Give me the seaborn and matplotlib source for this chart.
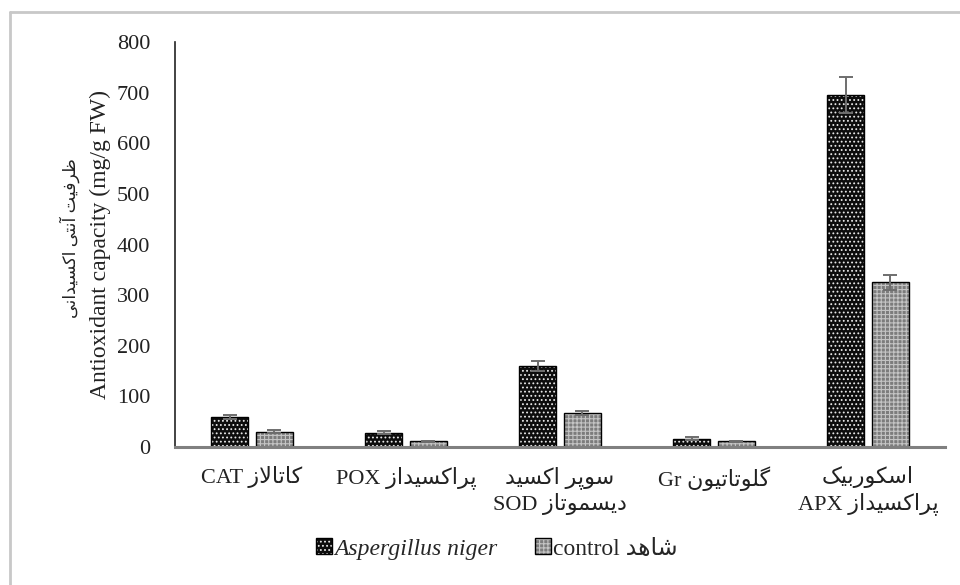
import numpy as np
import pandas as pd
import matplotlib
matplotlib.use("Agg")
import matplotlib.pyplot as plt
from matplotlib import font_manager, ft2font
from matplotlib.colors import to_rgba
from matplotlib.patches import Patch
from matplotlib.lines import Line2D
import seaborn as sns

# ---------------- Persian shaping helper (matplotlib has no bidi/shaping) -------------
_dj = ft2font.FT2Font(font_manager.findfont("DejaVu Sans"))
_cmap = _dj.get_charmap()

_JOIN = {
    "\u0627": ("R", 0xFE8D), "\u0622": ("R", 0xFE81), "\u0628": ("D", 0xFE8F),
    "\u062A": ("D", 0xFE95), "\u062F": ("R", 0xFEA9), "\u0631": ("R", 0xFEAD),
    "\u0632": ("R", 0xFEAF), "\u0633": ("D", 0xFEB1), "\u0634": ("D", 0xFEB5),
    "\u0638": ("D", 0xFEC5), "\u0641": ("D", 0xFED1), "\u0644": ("D", 0xFEDD),
    "\u0645": ("D", 0xFEE1), "\u0646": ("D", 0xFEE5), "\u0647": ("D", 0xFEE9),
    "\u0648": ("R", 0xFEED), "\u06CC": ("D", 0xFBFC), "\u06A9": ("D", 0xFB8E),
    "\u06AF": ("D", 0xFB92), "\u067E": ("D", 0xFB56),
}
_FALLBACK = {"\u06CC": (0xFEEF, 0xFEF0, 0xFEF3, 0xFEF4),
             "\u06A9": (0xFED9, 0xFEDA, 0xFEDB, 0xFEDC),
             "\u06AF": (0xFED9, 0xFEDA, 0xFEDB, 0xFEDC),
             "\u067E": (0xFE8F, 0xFE90, 0xFE91, 0xFE92)}


def _form(c, idx):
    t, base = _JOIN[c]
    cp = base + idx
    if cp not in _cmap and c in _FALLBACK:
        cp = _FALLBACK[c][idx]
    return chr(cp)


def fa(text):
    out = []
    i = 0
    n = len(text)
    prev_joins = False
    while i < n:
        c = text[i]
        if c not in _JOIN:
            out.append(c)
            prev_joins = False
            i += 1
            continue
        nxt = text[i + 1] if i + 1 < n else ""
        if c == "\u0644" and nxt in ("\u0627", "\u0622"):
            if nxt == "\u0627":
                out.append(chr(0xFEFC if prev_joins else 0xFEFB))
            else:
                out.append(chr(0xFEF6 if prev_joins else 0xFEF5))
            prev_joins = False
            i += 2
            continue
        t = _JOIN[c][0]
        joins_next = (t == "D") and (nxt in _JOIN)
        if prev_joins and joins_next:
            idx = 3
        elif prev_joins:
            idx = 1
        elif joins_next:
            idx = 2
        else:
            idx = 0
        out.append(_form(c, idx))
        prev_joins = joins_next
        i += 1
    return "".join(reversed(out))


# ---------------- data -------------------------------------------------------------
categories = [
    "CAT " + fa("کاتالاز"),
    "POX " + fa("پراکسیداز"),
    fa("سوپر اکسید") + "\n" + "SOD " + fa("دیسموتاز"),
    "Gr " + fa("گلوتاتیون"),
    fa("اسکوربیک") + "\n" + "APX " + fa("پراکسیداز"),
]
niger_values = [60, 28, 160, 16, 695]
control_values = [30, 11, 67, 11, 325]
niger_err = [4, 3, 9, 3, 35]
control_err = [3, 1, 4, 1, 15]
series_names = ["Aspergillus niger", "control " + fa("شاهد")]
yticks = [0, 100, 200, 300, 400, 500, 600, 700, 800]

df = pd.DataFrame({
    "category": categories * 2,
    "group": [series_names[0]] * len(categories) + [series_names[1]] * len(categories),
    "value": niger_values + control_values,
})

# ---------------- style ------------------------------------------------------------
sns.set_theme(style="white")
plt.rcParams["font.family"] = ["Liberation Serif", "DejaVu Sans"]
plt.rcParams["hatch.linewidth"] = 0.8

fig = plt.figure(figsize=(9.6, 5.85), dpi=100)
ax = fig.add_axes([175 / 960, 1 - 447 / 585, 770 / 960, 405 / 585])

face = {series_names[0]: "#0d0d0d", series_names[1]: "#7c7c7c"}
hatches = ["....", "++++"]
hatch_colors = ["#e8e8e8", "#c4c4c4"]

sns.barplot(data=df, x="category", y="value", hue="group", palette=face,
            width=0.58, gap=0.17, ax=ax, legend=False, saturation=1,
            edgecolor="black", linewidth=1.0)

errs = [niger_err, control_err]
bar_containers = list(ax.containers)
for k, cont in enumerate(bar_containers):
    xs, ys = [], []
    for p in cont.patches:
        p.set_hatch(hatches[k])
        p.set_edgecolor("black")
        p._hatch_color = to_rgba(hatch_colors[k])
        xs.append(p.get_x() + p.get_width() / 2)
        ys.append(p.get_height())
    ax.errorbar(xs, ys, yerr=errs[k], fmt="none", ecolor="#6e6e6e",
                elinewidth=1.4, capsize=5, capthick=1.4, zorder=5)

ax.set_ylim(0, 800)
ax.set_yticks(yticks)
ax.set_xlim(-0.5, len(categories) - 0.5)
ax.tick_params(axis="y", labelsize=16, pad=18, length=0, colors="#222222")
ax.tick_params(axis="x", labelsize=16, pad=14, length=0, colors="#222222")
ax.set_xlabel("")
ax.set_ylabel("Antioxidant capacity (mg/g FW)", fontsize=17, color="#222222")
ax.yaxis.set_label_coords(-64 / 770, 0.5)
for s in ["top", "right"]:
    ax.spines[s].set_visible(False)
ax.spines["left"].set_color("#222222")
ax.spines["left"].set_linewidth(1.2)
ax.spines["bottom"].set_color("#808080")
ax.spines["bottom"].set_linewidth(2.2)

fig.text(70 / 960, 1 - 238 / 585, fa("ظرفیت آنتی اکسیدانی"), rotation=90,
         ha="center", va="center", fontsize=12.5, color="#222222")

handles = [Patch(facecolor=face[n], edgecolor="black", hatch=h)
           for n, h in zip(series_names, hatches)]
for hnd, hc in zip(handles, hatch_colors):
    hnd._hatch_color = to_rgba(hc)
leg = fig.legend(handles, series_names, loc="center", bbox_to_anchor=(497 / 960, 1 - 549 / 585),
                 ncol=2, frameon=False, fontsize=17, handlelength=0.65, handleheight=0.65,
                 handletextpad=0.1, columnspacing=1.6)
leg.get_texts()[0].set_fontstyle("italic")

# light frame lines (top and left) of the picture
fig.add_artist(Line2D([10 / 960, 10 / 960], [0, 1 - 12 / 585], transform=fig.transFigure,
                      color="#c8c8c8", lw=2))
fig.add_artist(Line2D([10 / 960, 1], [1 - 12 / 585, 1 - 12 / 585], transform=fig.transFigure,
                      color="#c8c8c8", lw=2))

fig.savefig("out.png", dpi=100)
